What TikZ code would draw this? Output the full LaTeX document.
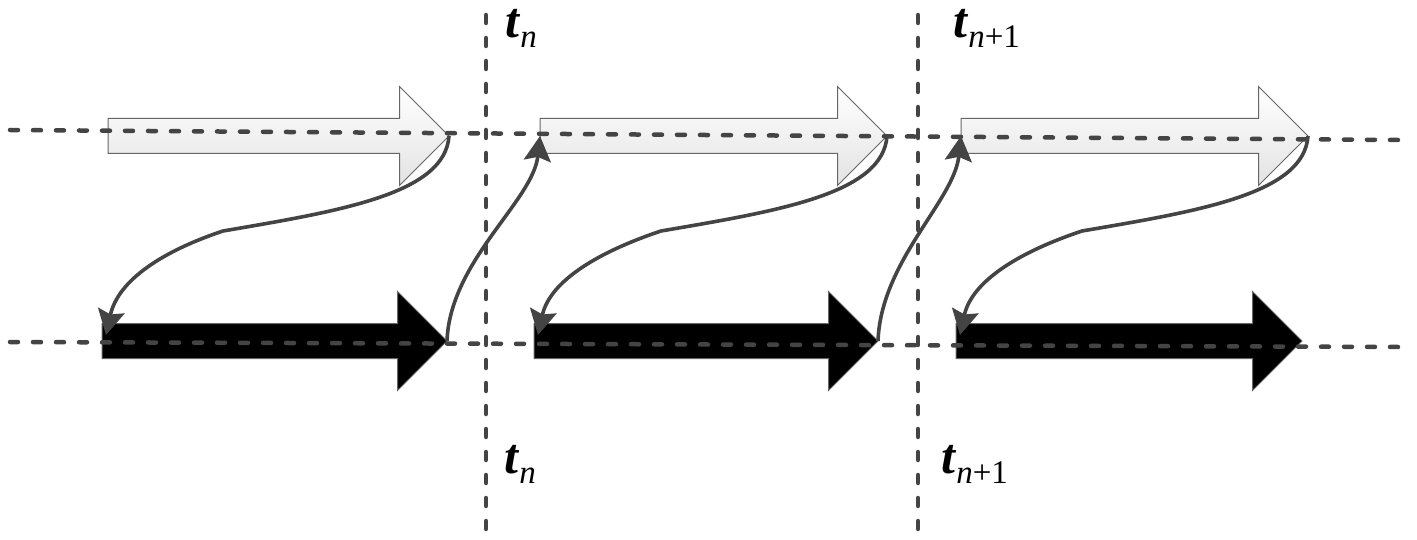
\documentclass[tikz,border=0pt]{standalone}
\usepackage{fontspec}
\setmainfont{Liberation Serif}
\usepackage{tikz}
\usetikzlibrary{arrows.meta,calc,shapes.arrows}
\definecolor{linegray}{HTML}{444444}
\definecolor{rimgray}{HTML}{666666}

\newcommand{\tlabel}[1]{\textbf{\textit{t}}\raisebox{-10pt}{\fontsize{33}{36}\selectfont #1}}

\tikzset{
  guide/.style={line width=4.5pt,color=linegray,line cap=round,dash pattern=on 8pt off 15pt},
  block/.style={single arrow,draw=rimgray,line width=1pt,anchor=tail,outer sep=0pt,
    inner xsep=0pt,inner ysep=17pt,single arrow head extend=32pt,single arrow tip angle=90},
  blockw/.style={block,top color=white,bottom color=black!11},
  blockb/.style={block,fill=black},
  flow/.style={->,line width=3.6pt,color=linegray},
  lab/.style={anchor=base west,inner sep=0pt,font=\fontsize{50}{60}\selectfont}
}

\begin{document}
\begin{tikzpicture}[x=1pt,y=1pt,>={Stealth[length=25pt,width=27pt,inset=4pt]}]
  \useasboundingbox (0,0) rectangle (1417,539);

  % Pfeile oben (hell) und unten (schwarz)
  \foreach \i/\xw/\lw/\xb/\lb in {1/108/341/102/345,2/540/347/534/344,3/961/347/956/346} {
    \node[blockw,minimum height=\lw] (w\i) at (\xw,403) {};
    \node[blockb,minimum height=\lb] (b\i) at (\xb,198) {};
  }

  % Hilfslinien
  \draw[guide] (10,409) -- (1400,399);
  \draw[guide] (10,197) -- (1405,192);
  \draw[guide] (486,524) -- (486,9);
  \draw[guide] (918,524) -- (918,9);

  % von oben nach unten
  \foreach \i in {1,2,3} {
    \coordinate (m\i) at ($(w\i.tip)+(-226,-95)$);
    \draw[flow] (w\i.tip) .. controls +(-4,-58) and +(117,20) .. (m\i)
      .. controls +(-60,-20) and +(12,55) .. ([shift={(4,6)}]b\i.tail);
  }

  % von unten nach oben
  \foreach \i/\j in {1/2,2/3}
    \draw[flow] (b\i.tip) .. controls +(3,80) and +(-7,-65) .. (w\j.tail);

  % Zeitpunkte
  \node[lab] (tn-o) at (505,501) {\tlabel{\textit{n}}};
  \node[lab] (tn1-o) at (953,501) {\tlabel{\textit{n}+1}};
  \node[lab] (tn-u) at (504,66) {\tlabel{\textit{n}}};
  \node[lab] (tn1-u) at (941,66) {\tlabel{\textit{n}+1}};
\end{tikzpicture}
\end{document}
